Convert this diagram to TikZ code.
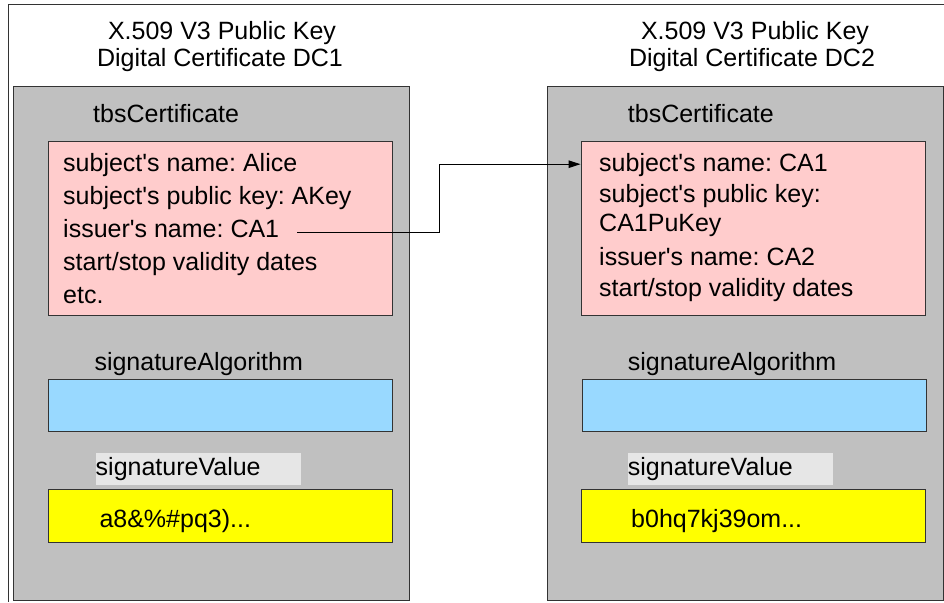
\documentclass[tikz,border=0pt]{standalone}
\usepackage{fontspec}
\setmainfont{Liberation Sans}
\usepackage{xcolor}
\definecolor{CertGray}{RGB}{192, 192, 192}
\definecolor{TbsPink}{RGB}{255, 204, 204}
\definecolor{AlgBlue}{RGB}{153, 217, 255}
\definecolor{SigYellow}{RGB}{255, 255, 0}
\definecolor{TagGray}{RGB}{230, 230, 230}
\definecolor{EdgeGray}{RGB}{51, 51, 51}
\usetikzlibrary{arrows.meta, positioning}
\newcommand{\ap}{\textquotesingle}

\begin{document}
\frenchspacing
\begin{tikzpicture}[
    x=1pt, y=-1pt,
    font=\fontsize{25pt}{30pt}\selectfont,
    frame/.style={draw=EdgeGray, line width=1pt},
    certbox/.style={rectangle, anchor=north west, inner sep=0pt, draw=EdgeGray, line width=1.3pt, fill=CertGray, minimum width=396pt, minimum height=514pt},
    field/.style={rectangle, anchor=north west, inner sep=0pt, draw=EdgeGray, line width=1pt, minimum width=344pt},
    txt/.style={anchor=base west, inner sep=0pt},
    title/.style={anchor=base, inner sep=0pt},
    sigtag/.style={anchor=base west, inner sep=0pt, fill=TagGray, text width=205pt, text height=22pt, text depth=10pt},
    link/.style={-{Stealth[length=12pt, width=7.5pt, inset=0pt]}, line width=1pt, black}
]
\useasboundingbox (0,0) rectangle (944,602);

% Outer frame
\draw[frame] (944,5) -- (8,5) -- (8,602);

% Certificate DC1
\node[title] (head1a) at (222,40) {X.509 V3 Public Key};
\node[title] (head1b) at (220,66.5) {Digital Certificate DC1};
\node[certbox] (cert1) at (13,86) {};
\node[txt] (tbs1lbl) at (93,122.7) {tbsCertificate};
\node[field, fill=TbsPink, minimum height=174pt] (tbs1) at (48,141) {};
\node[txt] (subj1) at (63,171.7) {subject\ap s name: Alice};
\node[txt] (key1) at (63,204) {subject\ap s public key: AKey};
\node[txt] (iss1) at (63,237.3) {issuer\ap s name: CA1};
\node[txt] (date1) at (63,270) {start/stop validity dates};
\node[txt] (etc1) at (63,303.3) {etc.};
\node[txt] (alg1lbl) at (94.3,370) {signatureAlgorithm};
\node[field, fill=AlgBlue, minimum height=52pt] (alg1) at (48,379.3) {};
\node[sigtag] (sig1lbl) at (95.5,475) {signatureValue};
\node[field, fill=SigYellow, minimum height=53pt] (sig1) at (48,489.3) {};
\node[txt] (val1) at (99.3,527.3) {a8\&\%\#pq3)...};

% Certificate DC2
\node[title] (head2a) at (755,40) {X.509 V3 Public Key};
\node[title] (head2b) at (752,66.5) {Digital Certificate DC2};
\node[certbox] (cert2) at (546.5,86) {};
\node[txt] (tbs2lbl) at (627.7,122.7) {tbsCertificate};
\node[field, fill=TbsPink, minimum height=174pt] (tbs2) at (580.5,141) {};
\node[txt] (subj2) at (599,171.7) {subject\ap s name: CA1};
\node[txt] (key2a) at (599,202.7) {subject\ap s public key:};
\node[txt] (key2b) at (599,231.3) {CA1PuKey};
\node[txt] (iss2) at (599,265) {issuer\ap s name: CA2};
\node[txt] (date2) at (599,296.5) {start/stop validity dates};
\node[txt] (alg2lbl) at (627.7,370) {signatureAlgorithm};
\node[field, fill=AlgBlue, minimum height=52pt] (alg2) at (581.5,379.3) {};
\node[sigtag] (sig2lbl) at (627.7,475) {signatureValue};
\node[field, fill=SigYellow, minimum height=53pt] (sig2) at (580.5,489.3) {};
\node[txt] (val2) at (631,527.3) {b0hq7kj39om...};

% Issuer of DC1 is subject of DC2
\coordinate (out1) at ([xshift=18pt, yshift=4.5pt]iss1.base east);
\coordinate (in2) at ([yshift=7.5pt]subj2.base west);
\coordinate (bend) at (439.3,0);
\draw[link] (out1) -- (out1 -| bend) |- (in2 -| tbs2.west);

\end{tikzpicture}
\end{document}
